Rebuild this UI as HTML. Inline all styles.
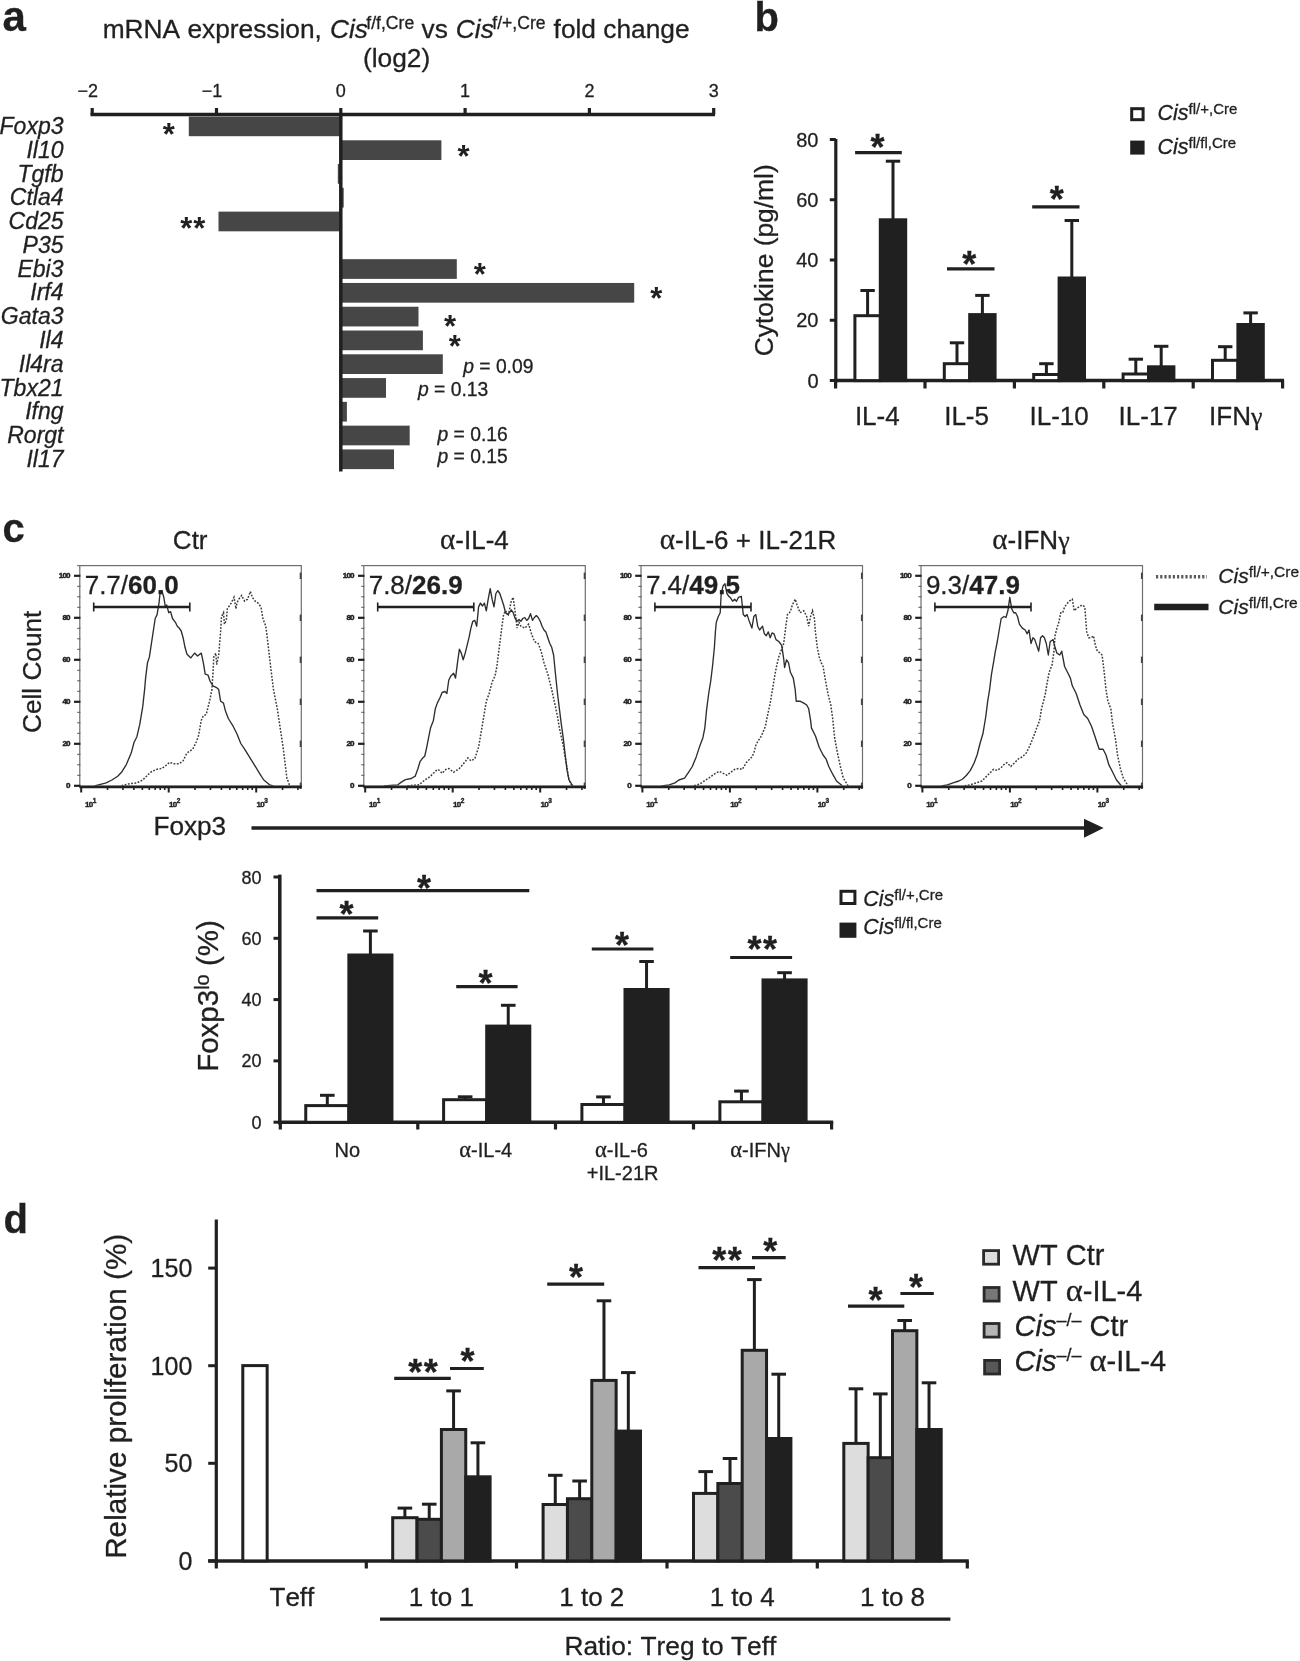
<!DOCTYPE html>
<html><head><meta charset="utf-8"><title>Figure</title>
<style>
html,body{margin:0;padding:0;background:#fff;overflow:hidden;}
svg{display:block;filter:grayscale(1);}
text{font-family:"Liberation Sans",sans-serif;fill:#231f20;font-kerning:none;stroke:#231f20;stroke-width:0.3px;}
</style></head>
<body>
<svg width="1300" height="1661" viewBox="0 0 1300 1661">
<rect width="1300" height="1661" fill="#fff"/>
<text x="2.50" y="31.00" font-size="42" font-weight="bold" >a</text>
<text y="38" font-size="26.3"><tspan x="102.7">mRNA expression,</tspan><tspan x="330" font-style="italic">Cis</tspan><tspan x="366.3" y="29.0" font-size="17.6">f/f,Cre</tspan><tspan x="421.6" y="38">vs</tspan><tspan x="455.8" font-style="italic">Cis</tspan><tspan x="492.3" y="29.0" font-size="17.6">f/+,Cre</tspan><tspan x="553.6" y="38">fold change</tspan></text>
<text x="363.00" y="67.20" font-size="26.3" >(log2)</text>
<line x1="90.50" y1="114.50" x2="715.00" y2="114.50" stroke="#231f20" stroke-width="3.5" />
<line x1="92.20" y1="108.00" x2="92.20" y2="114.50" stroke="#231f20" stroke-width="3.2" />
<text x="87.70" y="97.40" font-size="18" text-anchor="middle" >−2</text>
<line x1="216.50" y1="108.00" x2="216.50" y2="114.50" stroke="#231f20" stroke-width="3.2" />
<text x="212.00" y="97.40" font-size="18" text-anchor="middle" >−1</text>
<line x1="340.80" y1="108.00" x2="340.80" y2="114.50" stroke="#231f20" stroke-width="3.2" />
<text x="340.80" y="97.40" font-size="18" text-anchor="middle" >0</text>
<line x1="465.10" y1="108.00" x2="465.10" y2="114.50" stroke="#231f20" stroke-width="3.2" />
<text x="465.10" y="97.40" font-size="18" text-anchor="middle" >1</text>
<line x1="589.40" y1="108.00" x2="589.40" y2="114.50" stroke="#231f20" stroke-width="3.2" />
<text x="589.40" y="97.40" font-size="18" text-anchor="middle" >2</text>
<line x1="713.70" y1="108.00" x2="713.70" y2="114.50" stroke="#231f20" stroke-width="3.2" />
<text x="713.70" y="97.40" font-size="18" text-anchor="middle" >3</text>
<rect x="188.80" y="116.50" width="152.00" height="19.70" fill="#474647"/>
<text x="63.50" y="134.00" font-size="23" text-anchor="end" font-style="italic" >Foxp3</text>
<rect x="340.80" y="140.28" width="100.60" height="19.70" fill="#474647"/>
<text x="63.50" y="157.78" font-size="23" text-anchor="end" font-style="italic" >Il10</text>
<rect x="337.80" y="164.06" width="3.00" height="19.70" fill="#474647"/>
<text x="63.50" y="181.56" font-size="23" text-anchor="end" font-style="italic" >Tgfb</text>
<rect x="340.80" y="187.84" width="2.90" height="19.70" fill="#474647"/>
<text x="63.50" y="205.34" font-size="23" text-anchor="end" font-style="italic" >Ctla4</text>
<rect x="218.50" y="211.62" width="122.30" height="19.70" fill="#474647"/>
<text x="63.50" y="229.12" font-size="23" text-anchor="end" font-style="italic" >Cd25</text>
<text x="63.50" y="252.90" font-size="23" text-anchor="end" font-style="italic" >P35</text>
<rect x="340.80" y="259.18" width="116.00" height="19.70" fill="#474647"/>
<text x="63.50" y="276.68" font-size="23" text-anchor="end" font-style="italic" >Ebi3</text>
<rect x="340.80" y="282.96" width="293.40" height="19.70" fill="#474647"/>
<text x="63.50" y="300.46" font-size="23" text-anchor="end" font-style="italic" >Irf4</text>
<rect x="340.80" y="306.74" width="77.70" height="19.70" fill="#474647"/>
<text x="63.50" y="324.24" font-size="23" text-anchor="end" font-style="italic" >Gata3</text>
<rect x="340.80" y="330.52" width="82.10" height="19.70" fill="#474647"/>
<text x="63.50" y="348.02" font-size="23" text-anchor="end" font-style="italic" >Il4</text>
<rect x="340.80" y="354.30" width="102.00" height="19.70" fill="#474647"/>
<text x="63.50" y="371.80" font-size="23" text-anchor="end" font-style="italic" >Il4ra</text>
<rect x="340.80" y="378.08" width="45.20" height="19.70" fill="#474647"/>
<text x="63.50" y="395.58" font-size="23" text-anchor="end" font-style="italic" >Tbx21</text>
<rect x="340.80" y="401.86" width="6.10" height="19.70" fill="#474647"/>
<text x="63.50" y="419.36" font-size="23" text-anchor="end" font-style="italic" >Ifng</text>
<rect x="340.80" y="425.64" width="68.90" height="19.70" fill="#474647"/>
<text x="63.50" y="443.14" font-size="23" text-anchor="end" font-style="italic" >Rorgt</text>
<rect x="340.80" y="449.42" width="53.20" height="19.70" fill="#474647"/>
<text x="63.50" y="466.92" font-size="23" text-anchor="end" font-style="italic" >Il17</text>
<line x1="340.80" y1="113.00" x2="340.80" y2="471.60" stroke="#231f20" stroke-width="3.5" />
<text x="168.70" y="144.74" font-size="31" text-anchor="middle" font-weight="bold" style="stroke-width:0">*</text>
<text x="463.50" y="167.14" font-size="31" text-anchor="middle" font-weight="bold" style="stroke-width:0">*</text>
<text x="193.30" y="239.24" font-size="31" text-anchor="middle" font-weight="bold" letter-spacing="1" style="stroke-width:0">**</text>
<text x="479.80" y="285.34" font-size="31" text-anchor="middle" font-weight="bold" style="stroke-width:0">*</text>
<text x="656.20" y="309.14" font-size="31" text-anchor="middle" font-weight="bold" style="stroke-width:0">*</text>
<text x="450.00" y="337.34" font-size="31" text-anchor="middle" font-weight="bold" style="stroke-width:0">*</text>
<text x="454.80" y="356.54" font-size="31" text-anchor="middle" font-weight="bold" style="stroke-width:0">*</text>
<text x="463.20" y="373.40" font-size="19.3"><tspan font-style="italic">p</tspan> = 0.09</text>
<text x="418.00" y="396.00" font-size="19.3"><tspan font-style="italic">p</tspan> = 0.13</text>
<text x="437.50" y="440.60" font-size="19.3"><tspan font-style="italic">p</tspan> = 0.16</text>
<text x="437.50" y="462.80" font-size="19.3"><tspan font-style="italic">p</tspan> = 0.15</text>
<text x="754.50" y="31.00" font-size="40" font-weight="bold" >b</text>
<line x1="835.80" y1="139.00" x2="835.80" y2="382.50" stroke="#231f20" stroke-width="3.2" />
<line x1="829.80" y1="380.50" x2="835.80" y2="380.50" stroke="#231f20" stroke-width="3" />
<text x="818.50" y="387.70" font-size="20" text-anchor="end" >0</text>
<line x1="829.80" y1="320.25" x2="835.80" y2="320.25" stroke="#231f20" stroke-width="3" />
<text x="818.50" y="327.45" font-size="20" text-anchor="end" >20</text>
<line x1="829.80" y1="260.00" x2="835.80" y2="260.00" stroke="#231f20" stroke-width="3" />
<text x="818.50" y="267.20" font-size="20" text-anchor="end" >40</text>
<line x1="829.80" y1="199.75" x2="835.80" y2="199.75" stroke="#231f20" stroke-width="3" />
<text x="818.50" y="206.95" font-size="20" text-anchor="end" >60</text>
<line x1="829.80" y1="139.50" x2="835.80" y2="139.50" stroke="#231f20" stroke-width="3" />
<text x="818.50" y="146.70" font-size="20" text-anchor="end" >80</text>
<line x1="834.20" y1="380.60" x2="1284.00" y2="380.60" stroke="#231f20" stroke-width="3.5" />
<line x1="835.60" y1="380.00" x2="835.60" y2="388.50" stroke="#231f20" stroke-width="3.2" />
<line x1="925.00" y1="380.00" x2="925.00" y2="388.50" stroke="#231f20" stroke-width="3.2" />
<line x1="1014.40" y1="380.00" x2="1014.40" y2="388.50" stroke="#231f20" stroke-width="3.2" />
<line x1="1103.80" y1="380.00" x2="1103.80" y2="388.50" stroke="#231f20" stroke-width="3.2" />
<line x1="1193.20" y1="380.00" x2="1193.20" y2="388.50" stroke="#231f20" stroke-width="3.2" />
<line x1="1282.60" y1="380.00" x2="1282.60" y2="388.50" stroke="#231f20" stroke-width="3.2" />
<line x1="867.60" y1="315.70" x2="867.60" y2="290.50" stroke="#231f20" stroke-width="3" />
<line x1="860.40" y1="290.50" x2="874.80" y2="290.50" stroke="#231f20" stroke-width="3" />
<line x1="893.00" y1="219.80" x2="893.00" y2="161.20" stroke="#231f20" stroke-width="3" />
<line x1="885.80" y1="161.20" x2="900.20" y2="161.20" stroke="#231f20" stroke-width="3" />
<rect x="854.90" y="315.70" width="25.40" height="64.90" fill="#fff" stroke="#231f20" stroke-width="3"/>
<rect x="880.30" y="219.80" width="25.40" height="160.80" fill="#231f20" stroke="#231f20" stroke-width="3"/>
<line x1="957.00" y1="363.70" x2="957.00" y2="342.80" stroke="#231f20" stroke-width="3" />
<line x1="949.80" y1="342.80" x2="964.20" y2="342.80" stroke="#231f20" stroke-width="3" />
<line x1="982.40" y1="314.60" x2="982.40" y2="295.40" stroke="#231f20" stroke-width="3" />
<line x1="975.20" y1="295.40" x2="989.60" y2="295.40" stroke="#231f20" stroke-width="3" />
<rect x="944.30" y="363.70" width="25.40" height="16.90" fill="#fff" stroke="#231f20" stroke-width="3"/>
<rect x="969.70" y="314.60" width="25.40" height="66.00" fill="#231f20" stroke="#231f20" stroke-width="3"/>
<line x1="1046.40" y1="374.50" x2="1046.40" y2="363.70" stroke="#231f20" stroke-width="3" />
<line x1="1039.20" y1="363.70" x2="1053.60" y2="363.70" stroke="#231f20" stroke-width="3" />
<line x1="1071.80" y1="278.00" x2="1071.80" y2="220.50" stroke="#231f20" stroke-width="3" />
<line x1="1064.60" y1="220.50" x2="1079.00" y2="220.50" stroke="#231f20" stroke-width="3" />
<rect x="1033.70" y="374.50" width="25.40" height="6.10" fill="#fff" stroke="#231f20" stroke-width="3"/>
<rect x="1059.10" y="278.00" width="25.40" height="102.60" fill="#231f20" stroke="#231f20" stroke-width="3"/>
<line x1="1135.80" y1="374.00" x2="1135.80" y2="359.20" stroke="#231f20" stroke-width="3" />
<line x1="1128.60" y1="359.20" x2="1143.00" y2="359.20" stroke="#231f20" stroke-width="3" />
<line x1="1161.20" y1="366.80" x2="1161.20" y2="346.30" stroke="#231f20" stroke-width="3" />
<line x1="1154.00" y1="346.30" x2="1168.40" y2="346.30" stroke="#231f20" stroke-width="3" />
<rect x="1123.10" y="374.00" width="25.40" height="6.60" fill="#fff" stroke="#231f20" stroke-width="3"/>
<rect x="1148.50" y="366.80" width="25.40" height="13.80" fill="#231f20" stroke="#231f20" stroke-width="3"/>
<line x1="1225.20" y1="360.30" x2="1225.20" y2="346.70" stroke="#231f20" stroke-width="3" />
<line x1="1218.00" y1="346.70" x2="1232.40" y2="346.70" stroke="#231f20" stroke-width="3" />
<line x1="1250.60" y1="324.50" x2="1250.60" y2="312.90" stroke="#231f20" stroke-width="3" />
<line x1="1243.40" y1="312.90" x2="1257.80" y2="312.90" stroke="#231f20" stroke-width="3" />
<rect x="1212.50" y="360.30" width="25.40" height="20.30" fill="#fff" stroke="#231f20" stroke-width="3"/>
<rect x="1237.90" y="324.50" width="25.40" height="56.10" fill="#231f20" stroke="#231f20" stroke-width="3"/>
<line x1="855.10" y1="152.70" x2="901.80" y2="152.70" stroke="#231f20" stroke-width="3.2" />
<text x="877.60" y="160.47" font-size="36" text-anchor="middle" font-weight="bold" >*</text>
<line x1="947.00" y1="268.90" x2="994.50" y2="268.90" stroke="#231f20" stroke-width="3.2" />
<text x="969.20" y="276.57" font-size="36" text-anchor="middle" font-weight="bold" >*</text>
<line x1="1032.20" y1="206.90" x2="1079.50" y2="206.90" stroke="#231f20" stroke-width="3.2" />
<text x="1056.70" y="211.67" font-size="36" text-anchor="middle" font-weight="bold" >*</text>
<text x="877.30" y="425.30" font-size="26" text-anchor="middle" >IL-4</text>
<text x="966.60" y="425.30" font-size="26" text-anchor="middle" >IL-5</text>
<text x="1059.10" y="425.30" font-size="26" text-anchor="middle" >IL-10</text>
<text x="1148.20" y="425.30" font-size="26" text-anchor="middle" >IL-17</text>
<text x="1235.80" y="425.30" font-size="26" text-anchor="middle" >IFN<tspan font-family="Liberation Serif">γ</tspan></text>
<text transform="translate(772.9,260.3) rotate(-90)" font-size="26.4" text-anchor="middle">Cytokine (pg/ml)</text>
<rect x="1131.70" y="108.70" width="11.40" height="11.00" fill="#fff" stroke="#231f20" stroke-width="3"/>
<rect x="1131.70" y="142.10" width="11.40" height="11.00" fill="#231f20" stroke="#231f20" stroke-width="3"/>
<text x="1157.50" y="120.20" font-size="21.5"><tspan font-style="italic">Cis</tspan><tspan font-size="15" dy="-6">fl/+,Cre</tspan></text>
<text x="1157.50" y="153.50" font-size="21.5"><tspan font-style="italic">Cis</tspan><tspan font-size="15" dy="-6">fl/fl,Cre</tspan></text>
<text x="2.50" y="541.50" font-size="40" font-weight="bold" >c</text>
<text x="190.20" y="549.00" font-size="26" text-anchor="middle" >Ctr</text>
<text x="474.40" y="549.00" font-size="26" text-anchor="middle" ><tspan font-family="Liberation Serif" font-size="112%">α</tspan>-IL-4</text>
<text x="748.00" y="549.00" font-size="26" text-anchor="middle" ><tspan font-family="Liberation Serif" font-size="112%">α</tspan>-IL-6 + IL-21R</text>
<text x="1031.00" y="549.00" font-size="26" text-anchor="middle" ><tspan font-family="Liberation Serif" font-size="112%">α</tspan>-IFN<tspan font-family="Liberation Serif">γ</tspan></text>
<polyline points="121.5,785.8 129.2,783.8 136.9,782.9 142.7,780.0 146.5,776.2 150.4,772.3 156.2,769.4 161.9,768.5 165.8,765.6 169.6,762.3 173.5,763.7 179.2,763.7 183.1,760.8 186.9,753.1 192.7,749.2 196.5,741.5 198.5,735.8 201.3,720.4 203.3,715.6 206.2,714.6 208.1,706.9 210.0,699.2 211.9,689.6 212.9,674.2 213.8,656.9 215.8,653.1 216.7,664.6 218.7,655.0 220.6,631.9 221.5,616.5 223.5,612.7 224.4,624.2 226.3,620.4 227.3,608.8 229.2,606.0 231.2,603.1 234.0,597.3 236.0,608.8 236.9,603.1 238.8,599.2 241.7,595.4 244.6,601.2 247.5,599.2 250.4,591.5 252.3,597.3 255.2,601.2 258.1,603.1 261.0,606.9 262.9,618.5 265.8,626.2 267.7,641.5 270.6,666.5 273.5,689.6 277.3,708.8 280.2,728.1 283.1,747.3 285.0,762.7 286.9,778.1 289.8,785.8" fill="none" stroke="#3c3c3c" stroke-width="1.5" stroke-dasharray="1.8,1.5"/>
<polyline points="94.6,785.8 98.5,784.8 106.2,782.9 111.9,780.0 117.7,776.2 121.5,772.3 126.3,764.6 131.2,753.1 134.0,742.5 136.9,736.7 139.8,724.2 142.7,706.9 144.6,689.6 145.6,678.1 147.5,662.7 149.4,656.9 152.3,637.7 155.2,618.5 157.1,614.6 159.0,603.1 160.0,593.5 161.9,590.6 163.8,597.3 165.4,606.9 166.7,605.0 168.7,612.7 170.6,611.7 172.5,618.5 175.4,622.3 177.3,626.2 179.2,628.1 181.2,631.0 183.1,637.7 185.0,647.3 186.9,654.0 190.8,657.9 194.6,653.1 197.5,656.0 201.3,653.1 203.3,662.7 205.2,674.2 208.1,675.2 210.0,681.0 212.9,685.8 216.7,687.7 218.7,689.6 220.6,701.2 223.5,703.1 225.4,710.8 228.3,718.5 233.1,726.2 236.9,733.8 240.8,743.5 244.6,749.2 249.4,756.9 254.2,764.6 260.0,774.2 263.8,780.0 269.6,784.8 273.5,785.8" fill="none" stroke="#2e2e2e" stroke-width="1.35" stroke-linejoin="round"/>
<rect x="79.8" y="565.6" width="221.5" height="220.4" fill="none" stroke="#6e6e6e" stroke-width="1.2"/>
<line x1="77.20" y1="565.60" x2="79.80" y2="565.60" stroke="#6e6e6e" stroke-width="1.2" />
<line x1="74.00" y1="785.80" x2="80.40" y2="785.80" stroke="#231f20" stroke-width="2.2" />
<text x="69.7" y="788.4" font-size="8" font-weight="bold" text-anchor="end" style="letter-spacing:-0.8px;stroke-width:0.5px">0</text>
<line x1="300.60" y1="782.60" x2="300.60" y2="789.00" stroke="#444" stroke-width="1.8" />
<line x1="77.20" y1="775.30" x2="80.40" y2="775.30" stroke="#555" stroke-width="1.0" />
<line x1="77.20" y1="764.80" x2="80.40" y2="764.80" stroke="#555" stroke-width="1.0" />
<line x1="77.20" y1="754.30" x2="80.40" y2="754.30" stroke="#555" stroke-width="1.0" />
<line x1="74.00" y1="743.80" x2="80.40" y2="743.80" stroke="#231f20" stroke-width="2.2" />
<text x="69.7" y="746.4" font-size="8" font-weight="bold" text-anchor="end" style="letter-spacing:-0.8px;stroke-width:0.5px">20</text>
<line x1="300.60" y1="740.60" x2="300.60" y2="747.00" stroke="#444" stroke-width="1.8" />
<line x1="77.20" y1="733.30" x2="80.40" y2="733.30" stroke="#555" stroke-width="1.0" />
<line x1="77.20" y1="722.80" x2="80.40" y2="722.80" stroke="#555" stroke-width="1.0" />
<line x1="77.20" y1="712.30" x2="80.40" y2="712.30" stroke="#555" stroke-width="1.0" />
<line x1="74.00" y1="701.80" x2="80.40" y2="701.80" stroke="#231f20" stroke-width="2.2" />
<text x="69.7" y="704.4" font-size="8" font-weight="bold" text-anchor="end" style="letter-spacing:-0.8px;stroke-width:0.5px">40</text>
<line x1="300.60" y1="698.60" x2="300.60" y2="705.00" stroke="#444" stroke-width="1.8" />
<line x1="77.20" y1="691.30" x2="80.40" y2="691.30" stroke="#555" stroke-width="1.0" />
<line x1="77.20" y1="680.80" x2="80.40" y2="680.80" stroke="#555" stroke-width="1.0" />
<line x1="77.20" y1="670.30" x2="80.40" y2="670.30" stroke="#555" stroke-width="1.0" />
<line x1="74.00" y1="659.80" x2="80.40" y2="659.80" stroke="#231f20" stroke-width="2.2" />
<text x="69.7" y="662.4" font-size="8" font-weight="bold" text-anchor="end" style="letter-spacing:-0.8px;stroke-width:0.5px">60</text>
<line x1="300.60" y1="656.60" x2="300.60" y2="663.00" stroke="#444" stroke-width="1.8" />
<line x1="77.20" y1="649.30" x2="80.40" y2="649.30" stroke="#555" stroke-width="1.0" />
<line x1="77.20" y1="638.80" x2="80.40" y2="638.80" stroke="#555" stroke-width="1.0" />
<line x1="77.20" y1="628.30" x2="80.40" y2="628.30" stroke="#555" stroke-width="1.0" />
<line x1="74.00" y1="617.80" x2="80.40" y2="617.80" stroke="#231f20" stroke-width="2.2" />
<text x="69.7" y="620.4" font-size="8" font-weight="bold" text-anchor="end" style="letter-spacing:-0.8px;stroke-width:0.5px">80</text>
<line x1="300.60" y1="614.60" x2="300.60" y2="621.00" stroke="#444" stroke-width="1.8" />
<line x1="77.20" y1="607.30" x2="80.40" y2="607.30" stroke="#555" stroke-width="1.0" />
<line x1="77.20" y1="596.80" x2="80.40" y2="596.80" stroke="#555" stroke-width="1.0" />
<line x1="77.20" y1="586.30" x2="80.40" y2="586.30" stroke="#555" stroke-width="1.0" />
<line x1="74.00" y1="575.80" x2="80.40" y2="575.80" stroke="#231f20" stroke-width="2.2" />
<text x="69.7" y="578.4" font-size="8" font-weight="bold" text-anchor="end" style="letter-spacing:-0.8px;stroke-width:0.5px">100</text>
<line x1="300.60" y1="572.60" x2="300.60" y2="579.00" stroke="#444" stroke-width="1.8" />
<line x1="79.40" y1="787.00" x2="301.90" y2="787.00" stroke="#231f20" stroke-width="2.6" />
<line x1="81.20" y1="786.00" x2="81.20" y2="792.50" stroke="#231f20" stroke-width="2.0" />
<line x1="107.54" y1="786.00" x2="107.54" y2="790.00" stroke="#231f20" stroke-width="1.6" />
<line x1="122.95" y1="786.00" x2="122.95" y2="790.00" stroke="#231f20" stroke-width="1.6" />
<line x1="133.88" y1="786.00" x2="133.88" y2="790.00" stroke="#231f20" stroke-width="1.6" />
<line x1="142.36" y1="786.00" x2="142.36" y2="790.00" stroke="#231f20" stroke-width="1.6" />
<line x1="149.29" y1="786.00" x2="149.29" y2="790.00" stroke="#231f20" stroke-width="1.6" />
<line x1="155.15" y1="786.00" x2="155.15" y2="790.00" stroke="#231f20" stroke-width="1.6" />
<line x1="160.22" y1="786.00" x2="160.22" y2="790.00" stroke="#231f20" stroke-width="1.6" />
<line x1="164.70" y1="786.00" x2="164.70" y2="790.00" stroke="#231f20" stroke-width="1.6" />
<line x1="168.70" y1="786.00" x2="168.70" y2="792.50" stroke="#231f20" stroke-width="2.0" />
<line x1="195.04" y1="786.00" x2="195.04" y2="790.00" stroke="#231f20" stroke-width="1.6" />
<line x1="210.45" y1="786.00" x2="210.45" y2="790.00" stroke="#231f20" stroke-width="1.6" />
<line x1="221.38" y1="786.00" x2="221.38" y2="790.00" stroke="#231f20" stroke-width="1.6" />
<line x1="229.86" y1="786.00" x2="229.86" y2="790.00" stroke="#231f20" stroke-width="1.6" />
<line x1="236.79" y1="786.00" x2="236.79" y2="790.00" stroke="#231f20" stroke-width="1.6" />
<line x1="242.65" y1="786.00" x2="242.65" y2="790.00" stroke="#231f20" stroke-width="1.6" />
<line x1="247.72" y1="786.00" x2="247.72" y2="790.00" stroke="#231f20" stroke-width="1.6" />
<line x1="252.20" y1="786.00" x2="252.20" y2="790.00" stroke="#231f20" stroke-width="1.6" />
<line x1="256.20" y1="786.00" x2="256.20" y2="792.50" stroke="#231f20" stroke-width="2.0" />
<line x1="282.54" y1="786.00" x2="282.54" y2="790.00" stroke="#231f20" stroke-width="1.6" />
<line x1="297.95" y1="786.00" x2="297.95" y2="790.00" stroke="#231f20" stroke-width="1.6" />
<text x="85.0" y="806.5" font-size="8" font-weight="bold" style="letter-spacing:-0.6px;stroke-width:0.4px">10<tspan font-size="6.5" dy="-4">1</tspan></text>
<text x="169.0" y="806.5" font-size="8" font-weight="bold" style="letter-spacing:-0.6px;stroke-width:0.4px">10<tspan font-size="6.5" dy="-4">2</tspan></text>
<text x="256.5" y="806.5" font-size="8" font-weight="bold" style="letter-spacing:-0.6px;stroke-width:0.4px">10<tspan font-size="6.5" dy="-4">3</tspan></text>
<line x1="93.70" y1="607.00" x2="189.80" y2="607.00" stroke="#231f20" stroke-width="2.6" />
<line x1="93.70" y1="602.50" x2="93.70" y2="611.50" stroke="#231f20" stroke-width="1.6" />
<line x1="189.80" y1="602.50" x2="189.80" y2="611.50" stroke="#231f20" stroke-width="1.6" />
<text x="84.7" y="593.8" font-size="26">7.7/<tspan font-weight="bold">60.0</tspan></text>
<polyline points="407.5,785.8 419.0,784.8 424.8,780.0 430.5,776.2 436.3,770.4 438.2,769.4 442.1,773.3 445.9,769.4 448.8,768.5 453.6,772.3 459.4,768.5 465.2,761.7 468.0,757.9 470.9,760.8 474.8,758.8 478.6,747.3 480.5,735.8 482.5,724.2 484.4,712.7 486.3,701.2 489.2,693.5 492.1,681.9 495.0,676.2 496.9,666.5 497.8,658.8 499.8,643.5 501.7,628.1 503.6,614.6 505.5,610.8 508.4,614.6 511.3,601.2 513.2,597.3 515.2,612.7 517.1,628.1 519.0,622.3 520.9,626.2 524.8,628.1 528.6,624.2 531.5,633.8 534.4,641.5 538.2,643.5 541.1,651.2 544.0,662.7 547.8,674.2 551.7,689.6 555.5,706.9 557.5,716.5 559.4,728.1 563.2,745.4 567.1,768.5 569.0,780.0 571.9,785.8" fill="none" stroke="#3c3c3c" stroke-width="1.5" stroke-dasharray="1.8,1.5"/>
<polyline points="384.4,785.8 390.2,785.4 397.8,784.8 401.7,781.9 405.5,779.6 411.3,778.5 415.2,776.2 418.0,768.5 420.0,761.7 422.8,757.9 424.8,756.0 426.7,747.3 428.6,737.7 430.5,728.1 433.4,720.4 435.3,708.8 437.3,703.1 440.2,697.3 442.1,692.5 445.0,691.5 446.9,693.5 448.8,680.0 450.7,676.2 453.6,673.3 455.5,678.1 457.5,662.7 459.4,649.2 461.3,653.1 463.2,659.8 465.2,653.1 467.1,645.4 469.0,637.7 470.9,628.1 472.8,621.3 474.8,620.4 476.7,626.2 478.6,606.9 480.5,603.1 482.5,606.0 484.4,603.1 486.3,610.8 488.2,599.2 490.2,588.7 492.1,599.2 494.0,606.9 495.9,593.5 497.8,590.6 499.8,593.5 501.7,599.2 503.6,605.0 505.5,612.7 507.5,614.6 509.4,612.7 511.3,609.8 513.2,612.7 515.2,618.5 517.1,621.3 519.0,619.4 520.9,621.3 522.8,618.5 524.8,617.5 526.7,620.4 528.6,618.5 530.5,613.7 532.5,620.4 534.4,617.5 536.3,615.6 538.2,617.5 540.2,621.3 542.1,626.2 544.0,630.0 545.9,631.9 547.8,637.7 549.8,643.5 551.7,647.3 553.6,655.0 555.5,674.2 557.5,693.5 559.4,708.8 561.3,724.2 563.2,737.7 565.2,755.0 567.1,770.4 569.0,780.0 572.8,785.8" fill="none" stroke="#2e2e2e" stroke-width="1.35" stroke-linejoin="round"/>
<rect x="363.8" y="565.6" width="221.5" height="220.4" fill="none" stroke="#6e6e6e" stroke-width="1.2"/>
<line x1="361.20" y1="565.60" x2="363.80" y2="565.60" stroke="#6e6e6e" stroke-width="1.2" />
<line x1="358.00" y1="785.80" x2="364.40" y2="785.80" stroke="#231f20" stroke-width="2.2" />
<text x="353.7" y="788.4" font-size="8" font-weight="bold" text-anchor="end" style="letter-spacing:-0.8px;stroke-width:0.5px">0</text>
<line x1="584.60" y1="782.60" x2="584.60" y2="789.00" stroke="#444" stroke-width="1.8" />
<line x1="361.20" y1="775.30" x2="364.40" y2="775.30" stroke="#555" stroke-width="1.0" />
<line x1="361.20" y1="764.80" x2="364.40" y2="764.80" stroke="#555" stroke-width="1.0" />
<line x1="361.20" y1="754.30" x2="364.40" y2="754.30" stroke="#555" stroke-width="1.0" />
<line x1="358.00" y1="743.80" x2="364.40" y2="743.80" stroke="#231f20" stroke-width="2.2" />
<text x="353.7" y="746.4" font-size="8" font-weight="bold" text-anchor="end" style="letter-spacing:-0.8px;stroke-width:0.5px">20</text>
<line x1="584.60" y1="740.60" x2="584.60" y2="747.00" stroke="#444" stroke-width="1.8" />
<line x1="361.20" y1="733.30" x2="364.40" y2="733.30" stroke="#555" stroke-width="1.0" />
<line x1="361.20" y1="722.80" x2="364.40" y2="722.80" stroke="#555" stroke-width="1.0" />
<line x1="361.20" y1="712.30" x2="364.40" y2="712.30" stroke="#555" stroke-width="1.0" />
<line x1="358.00" y1="701.80" x2="364.40" y2="701.80" stroke="#231f20" stroke-width="2.2" />
<text x="353.7" y="704.4" font-size="8" font-weight="bold" text-anchor="end" style="letter-spacing:-0.8px;stroke-width:0.5px">40</text>
<line x1="584.60" y1="698.60" x2="584.60" y2="705.00" stroke="#444" stroke-width="1.8" />
<line x1="361.20" y1="691.30" x2="364.40" y2="691.30" stroke="#555" stroke-width="1.0" />
<line x1="361.20" y1="680.80" x2="364.40" y2="680.80" stroke="#555" stroke-width="1.0" />
<line x1="361.20" y1="670.30" x2="364.40" y2="670.30" stroke="#555" stroke-width="1.0" />
<line x1="358.00" y1="659.80" x2="364.40" y2="659.80" stroke="#231f20" stroke-width="2.2" />
<text x="353.7" y="662.4" font-size="8" font-weight="bold" text-anchor="end" style="letter-spacing:-0.8px;stroke-width:0.5px">60</text>
<line x1="584.60" y1="656.60" x2="584.60" y2="663.00" stroke="#444" stroke-width="1.8" />
<line x1="361.20" y1="649.30" x2="364.40" y2="649.30" stroke="#555" stroke-width="1.0" />
<line x1="361.20" y1="638.80" x2="364.40" y2="638.80" stroke="#555" stroke-width="1.0" />
<line x1="361.20" y1="628.30" x2="364.40" y2="628.30" stroke="#555" stroke-width="1.0" />
<line x1="358.00" y1="617.80" x2="364.40" y2="617.80" stroke="#231f20" stroke-width="2.2" />
<text x="353.7" y="620.4" font-size="8" font-weight="bold" text-anchor="end" style="letter-spacing:-0.8px;stroke-width:0.5px">80</text>
<line x1="584.60" y1="614.60" x2="584.60" y2="621.00" stroke="#444" stroke-width="1.8" />
<line x1="361.20" y1="607.30" x2="364.40" y2="607.30" stroke="#555" stroke-width="1.0" />
<line x1="361.20" y1="596.80" x2="364.40" y2="596.80" stroke="#555" stroke-width="1.0" />
<line x1="361.20" y1="586.30" x2="364.40" y2="586.30" stroke="#555" stroke-width="1.0" />
<line x1="358.00" y1="575.80" x2="364.40" y2="575.80" stroke="#231f20" stroke-width="2.2" />
<text x="353.7" y="578.4" font-size="8" font-weight="bold" text-anchor="end" style="letter-spacing:-0.8px;stroke-width:0.5px">100</text>
<line x1="584.60" y1="572.60" x2="584.60" y2="579.00" stroke="#444" stroke-width="1.8" />
<line x1="363.40" y1="787.00" x2="585.90" y2="787.00" stroke="#231f20" stroke-width="2.6" />
<line x1="365.20" y1="786.00" x2="365.20" y2="792.50" stroke="#231f20" stroke-width="2.0" />
<line x1="391.54" y1="786.00" x2="391.54" y2="790.00" stroke="#231f20" stroke-width="1.6" />
<line x1="406.95" y1="786.00" x2="406.95" y2="790.00" stroke="#231f20" stroke-width="1.6" />
<line x1="417.88" y1="786.00" x2="417.88" y2="790.00" stroke="#231f20" stroke-width="1.6" />
<line x1="426.36" y1="786.00" x2="426.36" y2="790.00" stroke="#231f20" stroke-width="1.6" />
<line x1="433.29" y1="786.00" x2="433.29" y2="790.00" stroke="#231f20" stroke-width="1.6" />
<line x1="439.15" y1="786.00" x2="439.15" y2="790.00" stroke="#231f20" stroke-width="1.6" />
<line x1="444.22" y1="786.00" x2="444.22" y2="790.00" stroke="#231f20" stroke-width="1.6" />
<line x1="448.70" y1="786.00" x2="448.70" y2="790.00" stroke="#231f20" stroke-width="1.6" />
<line x1="452.70" y1="786.00" x2="452.70" y2="792.50" stroke="#231f20" stroke-width="2.0" />
<line x1="479.04" y1="786.00" x2="479.04" y2="790.00" stroke="#231f20" stroke-width="1.6" />
<line x1="494.45" y1="786.00" x2="494.45" y2="790.00" stroke="#231f20" stroke-width="1.6" />
<line x1="505.38" y1="786.00" x2="505.38" y2="790.00" stroke="#231f20" stroke-width="1.6" />
<line x1="513.86" y1="786.00" x2="513.86" y2="790.00" stroke="#231f20" stroke-width="1.6" />
<line x1="520.79" y1="786.00" x2="520.79" y2="790.00" stroke="#231f20" stroke-width="1.6" />
<line x1="526.65" y1="786.00" x2="526.65" y2="790.00" stroke="#231f20" stroke-width="1.6" />
<line x1="531.72" y1="786.00" x2="531.72" y2="790.00" stroke="#231f20" stroke-width="1.6" />
<line x1="536.20" y1="786.00" x2="536.20" y2="790.00" stroke="#231f20" stroke-width="1.6" />
<line x1="540.20" y1="786.00" x2="540.20" y2="792.50" stroke="#231f20" stroke-width="2.0" />
<line x1="566.54" y1="786.00" x2="566.54" y2="790.00" stroke="#231f20" stroke-width="1.6" />
<line x1="581.95" y1="786.00" x2="581.95" y2="790.00" stroke="#231f20" stroke-width="1.6" />
<text x="369.0" y="806.5" font-size="8" font-weight="bold" style="letter-spacing:-0.6px;stroke-width:0.4px">10<tspan font-size="6.5" dy="-4">1</tspan></text>
<text x="453.0" y="806.5" font-size="8" font-weight="bold" style="letter-spacing:-0.6px;stroke-width:0.4px">10<tspan font-size="6.5" dy="-4">2</tspan></text>
<text x="540.5" y="806.5" font-size="8" font-weight="bold" style="letter-spacing:-0.6px;stroke-width:0.4px">10<tspan font-size="6.5" dy="-4">3</tspan></text>
<line x1="377.70" y1="607.00" x2="473.80" y2="607.00" stroke="#231f20" stroke-width="2.6" />
<line x1="377.70" y1="602.50" x2="377.70" y2="611.50" stroke="#231f20" stroke-width="1.6" />
<line x1="473.80" y1="602.50" x2="473.80" y2="611.50" stroke="#231f20" stroke-width="1.6" />
<text x="368.7" y="593.8" font-size="26">7.8/<tspan font-weight="bold">26.9</tspan></text>
<polyline points="694.2,785.8 700.0,783.8 705.8,780.0 711.5,776.2 715.4,773.3 719.2,771.3 723.1,773.3 726.9,775.2 730.8,772.3 734.6,769.4 738.5,768.5 742.3,769.4 746.2,762.7 751.9,756.9 753.8,753.1 755.8,745.4 757.7,741.5 761.5,735.8 765.4,726.2 767.3,716.5 770.2,703.1 773.1,685.8 775.0,674.2 776.9,664.6 778.8,656.9 781.7,649.2 783.7,643.5 785.6,628.1 787.5,614.6 790.4,611.7 792.3,605.0 795.2,599.2 797.1,605.0 800.0,612.7 803.8,610.8 806.7,616.5 808.7,626.2 810.6,616.5 812.5,610.8 814.4,618.5 815.4,631.9 817.3,647.3 819.2,656.9 821.2,662.7 823.1,666.5 825.0,678.1 827.9,693.5 830.8,705.0 832.7,718.5 834.6,737.7 837.5,753.1 840.4,766.5 843.3,778.1 848.1,785.8" fill="none" stroke="#3c3c3c" stroke-width="1.5" stroke-dasharray="1.8,1.5"/>
<polyline points="661.5,785.8 669.2,784.8 675.0,782.9 678.8,780.0 684.6,778.1 688.5,772.3 692.3,766.5 696.2,756.9 700.0,745.4 702.9,737.7 704.8,728.1 706.7,708.8 708.7,693.5 710.6,681.9 712.5,666.5 714.4,647.3 715.4,631.9 716.3,622.3 718.3,616.5 720.2,612.7 721.2,593.5 723.1,585.8 725.0,583.8 726.9,593.5 728.8,596.3 730.8,598.3 732.7,601.2 734.6,599.2 736.5,601.2 738.5,597.3 741.3,596.3 743.3,614.6 745.2,616.5 747.1,614.6 749.0,620.4 751.9,628.1 753.8,616.5 755.8,614.6 757.7,626.2 759.6,630.0 762.5,626.2 764.4,633.8 766.3,635.8 768.3,631.9 770.2,637.7 772.1,632.9 774.0,633.8 776.0,639.6 778.8,641.5 781.7,645.4 783.7,658.8 784.6,667.5 786.5,659.8 788.5,662.7 790.4,672.3 793.3,678.1 795.2,689.6 796.2,701.2 800.0,701.2 803.8,703.1 806.7,705.0 808.7,708.8 810.6,720.4 811.5,728.1 815.4,735.8 819.2,747.3 823.1,755.0 826.0,758.8 828.8,766.5 832.7,774.2 836.5,781.0 842.3,785.8" fill="none" stroke="#2e2e2e" stroke-width="1.35" stroke-linejoin="round"/>
<rect x="641.0" y="565.6" width="221.5" height="220.4" fill="none" stroke="#6e6e6e" stroke-width="1.2"/>
<line x1="638.40" y1="565.60" x2="641.00" y2="565.60" stroke="#6e6e6e" stroke-width="1.2" />
<line x1="635.20" y1="785.80" x2="641.60" y2="785.80" stroke="#231f20" stroke-width="2.2" />
<text x="630.9" y="788.4" font-size="8" font-weight="bold" text-anchor="end" style="letter-spacing:-0.8px;stroke-width:0.5px">0</text>
<line x1="861.80" y1="782.60" x2="861.80" y2="789.00" stroke="#444" stroke-width="1.8" />
<line x1="638.40" y1="775.30" x2="641.60" y2="775.30" stroke="#555" stroke-width="1.0" />
<line x1="638.40" y1="764.80" x2="641.60" y2="764.80" stroke="#555" stroke-width="1.0" />
<line x1="638.40" y1="754.30" x2="641.60" y2="754.30" stroke="#555" stroke-width="1.0" />
<line x1="635.20" y1="743.80" x2="641.60" y2="743.80" stroke="#231f20" stroke-width="2.2" />
<text x="630.9" y="746.4" font-size="8" font-weight="bold" text-anchor="end" style="letter-spacing:-0.8px;stroke-width:0.5px">20</text>
<line x1="861.80" y1="740.60" x2="861.80" y2="747.00" stroke="#444" stroke-width="1.8" />
<line x1="638.40" y1="733.30" x2="641.60" y2="733.30" stroke="#555" stroke-width="1.0" />
<line x1="638.40" y1="722.80" x2="641.60" y2="722.80" stroke="#555" stroke-width="1.0" />
<line x1="638.40" y1="712.30" x2="641.60" y2="712.30" stroke="#555" stroke-width="1.0" />
<line x1="635.20" y1="701.80" x2="641.60" y2="701.80" stroke="#231f20" stroke-width="2.2" />
<text x="630.9" y="704.4" font-size="8" font-weight="bold" text-anchor="end" style="letter-spacing:-0.8px;stroke-width:0.5px">40</text>
<line x1="861.80" y1="698.60" x2="861.80" y2="705.00" stroke="#444" stroke-width="1.8" />
<line x1="638.40" y1="691.30" x2="641.60" y2="691.30" stroke="#555" stroke-width="1.0" />
<line x1="638.40" y1="680.80" x2="641.60" y2="680.80" stroke="#555" stroke-width="1.0" />
<line x1="638.40" y1="670.30" x2="641.60" y2="670.30" stroke="#555" stroke-width="1.0" />
<line x1="635.20" y1="659.80" x2="641.60" y2="659.80" stroke="#231f20" stroke-width="2.2" />
<text x="630.9" y="662.4" font-size="8" font-weight="bold" text-anchor="end" style="letter-spacing:-0.8px;stroke-width:0.5px">60</text>
<line x1="861.80" y1="656.60" x2="861.80" y2="663.00" stroke="#444" stroke-width="1.8" />
<line x1="638.40" y1="649.30" x2="641.60" y2="649.30" stroke="#555" stroke-width="1.0" />
<line x1="638.40" y1="638.80" x2="641.60" y2="638.80" stroke="#555" stroke-width="1.0" />
<line x1="638.40" y1="628.30" x2="641.60" y2="628.30" stroke="#555" stroke-width="1.0" />
<line x1="635.20" y1="617.80" x2="641.60" y2="617.80" stroke="#231f20" stroke-width="2.2" />
<text x="630.9" y="620.4" font-size="8" font-weight="bold" text-anchor="end" style="letter-spacing:-0.8px;stroke-width:0.5px">80</text>
<line x1="861.80" y1="614.60" x2="861.80" y2="621.00" stroke="#444" stroke-width="1.8" />
<line x1="638.40" y1="607.30" x2="641.60" y2="607.30" stroke="#555" stroke-width="1.0" />
<line x1="638.40" y1="596.80" x2="641.60" y2="596.80" stroke="#555" stroke-width="1.0" />
<line x1="638.40" y1="586.30" x2="641.60" y2="586.30" stroke="#555" stroke-width="1.0" />
<line x1="635.20" y1="575.80" x2="641.60" y2="575.80" stroke="#231f20" stroke-width="2.2" />
<text x="630.9" y="578.4" font-size="8" font-weight="bold" text-anchor="end" style="letter-spacing:-0.8px;stroke-width:0.5px">100</text>
<line x1="861.80" y1="572.60" x2="861.80" y2="579.00" stroke="#444" stroke-width="1.8" />
<line x1="640.60" y1="787.00" x2="863.10" y2="787.00" stroke="#231f20" stroke-width="2.6" />
<line x1="642.40" y1="786.00" x2="642.40" y2="792.50" stroke="#231f20" stroke-width="2.0" />
<line x1="668.74" y1="786.00" x2="668.74" y2="790.00" stroke="#231f20" stroke-width="1.6" />
<line x1="684.15" y1="786.00" x2="684.15" y2="790.00" stroke="#231f20" stroke-width="1.6" />
<line x1="695.08" y1="786.00" x2="695.08" y2="790.00" stroke="#231f20" stroke-width="1.6" />
<line x1="703.56" y1="786.00" x2="703.56" y2="790.00" stroke="#231f20" stroke-width="1.6" />
<line x1="710.49" y1="786.00" x2="710.49" y2="790.00" stroke="#231f20" stroke-width="1.6" />
<line x1="716.35" y1="786.00" x2="716.35" y2="790.00" stroke="#231f20" stroke-width="1.6" />
<line x1="721.42" y1="786.00" x2="721.42" y2="790.00" stroke="#231f20" stroke-width="1.6" />
<line x1="725.90" y1="786.00" x2="725.90" y2="790.00" stroke="#231f20" stroke-width="1.6" />
<line x1="729.90" y1="786.00" x2="729.90" y2="792.50" stroke="#231f20" stroke-width="2.0" />
<line x1="756.24" y1="786.00" x2="756.24" y2="790.00" stroke="#231f20" stroke-width="1.6" />
<line x1="771.65" y1="786.00" x2="771.65" y2="790.00" stroke="#231f20" stroke-width="1.6" />
<line x1="782.58" y1="786.00" x2="782.58" y2="790.00" stroke="#231f20" stroke-width="1.6" />
<line x1="791.06" y1="786.00" x2="791.06" y2="790.00" stroke="#231f20" stroke-width="1.6" />
<line x1="797.99" y1="786.00" x2="797.99" y2="790.00" stroke="#231f20" stroke-width="1.6" />
<line x1="803.85" y1="786.00" x2="803.85" y2="790.00" stroke="#231f20" stroke-width="1.6" />
<line x1="808.92" y1="786.00" x2="808.92" y2="790.00" stroke="#231f20" stroke-width="1.6" />
<line x1="813.40" y1="786.00" x2="813.40" y2="790.00" stroke="#231f20" stroke-width="1.6" />
<line x1="817.40" y1="786.00" x2="817.40" y2="792.50" stroke="#231f20" stroke-width="2.0" />
<line x1="843.74" y1="786.00" x2="843.74" y2="790.00" stroke="#231f20" stroke-width="1.6" />
<line x1="859.15" y1="786.00" x2="859.15" y2="790.00" stroke="#231f20" stroke-width="1.6" />
<text x="646.2" y="806.5" font-size="8" font-weight="bold" style="letter-spacing:-0.6px;stroke-width:0.4px">10<tspan font-size="6.5" dy="-4">1</tspan></text>
<text x="730.2" y="806.5" font-size="8" font-weight="bold" style="letter-spacing:-0.6px;stroke-width:0.4px">10<tspan font-size="6.5" dy="-4">2</tspan></text>
<text x="817.7" y="806.5" font-size="8" font-weight="bold" style="letter-spacing:-0.6px;stroke-width:0.4px">10<tspan font-size="6.5" dy="-4">3</tspan></text>
<line x1="654.90" y1="607.00" x2="751.00" y2="607.00" stroke="#231f20" stroke-width="2.6" />
<line x1="654.90" y1="602.50" x2="654.90" y2="611.50" stroke="#231f20" stroke-width="1.6" />
<line x1="751.00" y1="602.50" x2="751.00" y2="611.50" stroke="#231f20" stroke-width="1.6" />
<text x="645.9" y="593.8" font-size="26">7.4/<tspan font-weight="bold">49.5</tspan></text>
<polyline points="964.6,785.8 970.4,784.8 976.2,782.9 981.9,781.0 985.8,777.1 989.6,773.3 993.5,769.4 997.3,770.4 1001.2,767.5 1004.0,764.6 1006.9,762.7 1010.8,766.5 1014.6,762.7 1018.5,758.8 1022.3,756.9 1026.2,753.1 1030.0,745.4 1033.8,735.8 1036.7,728.1 1039.6,720.4 1041.5,708.8 1043.5,701.2 1045.4,693.5 1047.3,681.9 1049.2,672.3 1052.1,664.6 1054.0,651.2 1055.0,635.8 1056.9,628.1 1058.8,622.3 1060.8,612.7 1062.7,612.7 1064.6,606.9 1067.5,603.1 1069.4,601.2 1072.3,599.2 1074.2,610.8 1076.2,608.8 1079.0,606.9 1081.9,605.0 1084.8,606.9 1086.7,631.9 1088.7,637.7 1091.5,637.7 1093.5,635.8 1095.4,645.4 1097.3,651.2 1100.2,653.1 1102.1,655.0 1104.0,670.4 1106.0,689.6 1107.9,701.2 1110.8,708.8 1112.7,724.2 1115.6,739.6 1117.5,755.0 1120.4,768.5 1123.3,778.1 1128.1,785.8" fill="none" stroke="#3c3c3c" stroke-width="1.5" stroke-dasharray="1.8,1.5"/>
<polyline points="941.5,785.8 947.3,784.8 953.1,782.9 958.8,781.0 962.7,779.0 966.5,775.2 970.4,770.4 974.2,762.7 977.1,755.0 980.0,743.5 982.9,733.8 985.8,716.5 987.7,701.2 989.6,689.6 991.5,674.2 993.5,662.7 995.4,651.2 997.3,641.5 999.2,630.0 1001.2,618.5 1004.0,616.5 1006.0,617.5 1007.9,610.8 1009.8,597.3 1011.7,608.8 1013.7,612.7 1015.6,612.7 1017.5,616.5 1019.4,624.2 1022.3,628.1 1025.2,630.0 1027.1,633.8 1029.0,630.0 1031.0,643.5 1032.9,637.7 1034.8,639.6 1036.7,645.4 1038.7,651.2 1040.6,637.7 1042.5,635.8 1044.4,637.7 1046.3,643.5 1048.3,655.0 1050.2,641.5 1053.1,639.6 1055.0,647.3 1056.9,653.1 1059.8,655.0 1061.7,651.2 1064.6,666.5 1067.5,672.3 1070.4,678.1 1072.3,685.8 1076.2,693.5 1080.0,705.0 1083.8,714.6 1087.7,718.5 1091.5,726.2 1095.4,737.7 1099.2,749.2 1103.1,749.2 1106.0,755.0 1108.8,764.6 1112.7,772.3 1116.5,780.0 1121.3,785.8" fill="none" stroke="#2e2e2e" stroke-width="1.35" stroke-linejoin="round"/>
<rect x="921.0" y="565.6" width="221.5" height="220.4" fill="none" stroke="#6e6e6e" stroke-width="1.2"/>
<line x1="918.40" y1="565.60" x2="921.00" y2="565.60" stroke="#6e6e6e" stroke-width="1.2" />
<line x1="915.20" y1="785.80" x2="921.60" y2="785.80" stroke="#231f20" stroke-width="2.2" />
<text x="910.9" y="788.4" font-size="8" font-weight="bold" text-anchor="end" style="letter-spacing:-0.8px;stroke-width:0.5px">0</text>
<line x1="1141.80" y1="782.60" x2="1141.80" y2="789.00" stroke="#444" stroke-width="1.8" />
<line x1="918.40" y1="775.30" x2="921.60" y2="775.30" stroke="#555" stroke-width="1.0" />
<line x1="918.40" y1="764.80" x2="921.60" y2="764.80" stroke="#555" stroke-width="1.0" />
<line x1="918.40" y1="754.30" x2="921.60" y2="754.30" stroke="#555" stroke-width="1.0" />
<line x1="915.20" y1="743.80" x2="921.60" y2="743.80" stroke="#231f20" stroke-width="2.2" />
<text x="910.9" y="746.4" font-size="8" font-weight="bold" text-anchor="end" style="letter-spacing:-0.8px;stroke-width:0.5px">20</text>
<line x1="1141.80" y1="740.60" x2="1141.80" y2="747.00" stroke="#444" stroke-width="1.8" />
<line x1="918.40" y1="733.30" x2="921.60" y2="733.30" stroke="#555" stroke-width="1.0" />
<line x1="918.40" y1="722.80" x2="921.60" y2="722.80" stroke="#555" stroke-width="1.0" />
<line x1="918.40" y1="712.30" x2="921.60" y2="712.30" stroke="#555" stroke-width="1.0" />
<line x1="915.20" y1="701.80" x2="921.60" y2="701.80" stroke="#231f20" stroke-width="2.2" />
<text x="910.9" y="704.4" font-size="8" font-weight="bold" text-anchor="end" style="letter-spacing:-0.8px;stroke-width:0.5px">40</text>
<line x1="1141.80" y1="698.60" x2="1141.80" y2="705.00" stroke="#444" stroke-width="1.8" />
<line x1="918.40" y1="691.30" x2="921.60" y2="691.30" stroke="#555" stroke-width="1.0" />
<line x1="918.40" y1="680.80" x2="921.60" y2="680.80" stroke="#555" stroke-width="1.0" />
<line x1="918.40" y1="670.30" x2="921.60" y2="670.30" stroke="#555" stroke-width="1.0" />
<line x1="915.20" y1="659.80" x2="921.60" y2="659.80" stroke="#231f20" stroke-width="2.2" />
<text x="910.9" y="662.4" font-size="8" font-weight="bold" text-anchor="end" style="letter-spacing:-0.8px;stroke-width:0.5px">60</text>
<line x1="1141.80" y1="656.60" x2="1141.80" y2="663.00" stroke="#444" stroke-width="1.8" />
<line x1="918.40" y1="649.30" x2="921.60" y2="649.30" stroke="#555" stroke-width="1.0" />
<line x1="918.40" y1="638.80" x2="921.60" y2="638.80" stroke="#555" stroke-width="1.0" />
<line x1="918.40" y1="628.30" x2="921.60" y2="628.30" stroke="#555" stroke-width="1.0" />
<line x1="915.20" y1="617.80" x2="921.60" y2="617.80" stroke="#231f20" stroke-width="2.2" />
<text x="910.9" y="620.4" font-size="8" font-weight="bold" text-anchor="end" style="letter-spacing:-0.8px;stroke-width:0.5px">80</text>
<line x1="1141.80" y1="614.60" x2="1141.80" y2="621.00" stroke="#444" stroke-width="1.8" />
<line x1="918.40" y1="607.30" x2="921.60" y2="607.30" stroke="#555" stroke-width="1.0" />
<line x1="918.40" y1="596.80" x2="921.60" y2="596.80" stroke="#555" stroke-width="1.0" />
<line x1="918.40" y1="586.30" x2="921.60" y2="586.30" stroke="#555" stroke-width="1.0" />
<line x1="915.20" y1="575.80" x2="921.60" y2="575.80" stroke="#231f20" stroke-width="2.2" />
<text x="910.9" y="578.4" font-size="8" font-weight="bold" text-anchor="end" style="letter-spacing:-0.8px;stroke-width:0.5px">100</text>
<line x1="1141.80" y1="572.60" x2="1141.80" y2="579.00" stroke="#444" stroke-width="1.8" />
<line x1="920.60" y1="787.00" x2="1143.10" y2="787.00" stroke="#231f20" stroke-width="2.6" />
<line x1="922.40" y1="786.00" x2="922.40" y2="792.50" stroke="#231f20" stroke-width="2.0" />
<line x1="948.74" y1="786.00" x2="948.74" y2="790.00" stroke="#231f20" stroke-width="1.6" />
<line x1="964.15" y1="786.00" x2="964.15" y2="790.00" stroke="#231f20" stroke-width="1.6" />
<line x1="975.08" y1="786.00" x2="975.08" y2="790.00" stroke="#231f20" stroke-width="1.6" />
<line x1="983.56" y1="786.00" x2="983.56" y2="790.00" stroke="#231f20" stroke-width="1.6" />
<line x1="990.49" y1="786.00" x2="990.49" y2="790.00" stroke="#231f20" stroke-width="1.6" />
<line x1="996.35" y1="786.00" x2="996.35" y2="790.00" stroke="#231f20" stroke-width="1.6" />
<line x1="1001.42" y1="786.00" x2="1001.42" y2="790.00" stroke="#231f20" stroke-width="1.6" />
<line x1="1005.90" y1="786.00" x2="1005.90" y2="790.00" stroke="#231f20" stroke-width="1.6" />
<line x1="1009.90" y1="786.00" x2="1009.90" y2="792.50" stroke="#231f20" stroke-width="2.0" />
<line x1="1036.24" y1="786.00" x2="1036.24" y2="790.00" stroke="#231f20" stroke-width="1.6" />
<line x1="1051.65" y1="786.00" x2="1051.65" y2="790.00" stroke="#231f20" stroke-width="1.6" />
<line x1="1062.58" y1="786.00" x2="1062.58" y2="790.00" stroke="#231f20" stroke-width="1.6" />
<line x1="1071.06" y1="786.00" x2="1071.06" y2="790.00" stroke="#231f20" stroke-width="1.6" />
<line x1="1077.99" y1="786.00" x2="1077.99" y2="790.00" stroke="#231f20" stroke-width="1.6" />
<line x1="1083.85" y1="786.00" x2="1083.85" y2="790.00" stroke="#231f20" stroke-width="1.6" />
<line x1="1088.92" y1="786.00" x2="1088.92" y2="790.00" stroke="#231f20" stroke-width="1.6" />
<line x1="1093.40" y1="786.00" x2="1093.40" y2="790.00" stroke="#231f20" stroke-width="1.6" />
<line x1="1097.40" y1="786.00" x2="1097.40" y2="792.50" stroke="#231f20" stroke-width="2.0" />
<line x1="1123.74" y1="786.00" x2="1123.74" y2="790.00" stroke="#231f20" stroke-width="1.6" />
<line x1="1139.15" y1="786.00" x2="1139.15" y2="790.00" stroke="#231f20" stroke-width="1.6" />
<text x="926.2" y="806.5" font-size="8" font-weight="bold" style="letter-spacing:-0.6px;stroke-width:0.4px">10<tspan font-size="6.5" dy="-4">1</tspan></text>
<text x="1010.2" y="806.5" font-size="8" font-weight="bold" style="letter-spacing:-0.6px;stroke-width:0.4px">10<tspan font-size="6.5" dy="-4">2</tspan></text>
<text x="1097.7" y="806.5" font-size="8" font-weight="bold" style="letter-spacing:-0.6px;stroke-width:0.4px">10<tspan font-size="6.5" dy="-4">3</tspan></text>
<line x1="934.90" y1="607.00" x2="1031.00" y2="607.00" stroke="#231f20" stroke-width="2.6" />
<line x1="934.90" y1="602.50" x2="934.90" y2="611.50" stroke="#231f20" stroke-width="1.6" />
<line x1="1031.00" y1="602.50" x2="1031.00" y2="611.50" stroke="#231f20" stroke-width="1.6" />
<text x="925.9" y="593.8" font-size="26">9.3/<tspan font-weight="bold">47.9</tspan></text>
<text transform="translate(40.6,671.8) rotate(-90)" font-size="26.2" text-anchor="middle">Cell Count</text>
<text x="153.40" y="834.70" font-size="26.2" >Foxp3</text>
<line x1="251.50" y1="828.00" x2="1086.00" y2="828.00" stroke="#231f20" stroke-width="3.6" />
<polygon points="1084,818.7 1103.6,828 1084,837.7" fill="#231f20"/>
<line x1="1156.00" y1="576.70" x2="1207.00" y2="576.70" stroke="#5a5a5a" stroke-width="3.4" stroke-dasharray="2.2,2"/>
<line x1="1154.20" y1="607.00" x2="1208.50" y2="607.00" stroke="#231f20" stroke-width="6.5" />
<text x="1218.30" y="583.30" font-size="21"><tspan font-style="italic">Cis</tspan><tspan font-size="15.5" dy="-6.5">fl/+,Cre</tspan></text>
<text x="1218.30" y="614.00" font-size="21"><tspan font-style="italic">Cis</tspan><tspan font-size="15.5" dy="-6.5">fl/fl,Cre</tspan></text>
<line x1="279.80" y1="874.60" x2="279.80" y2="1124.50" stroke="#231f20" stroke-width="3.5" />
<line x1="273.50" y1="1122.20" x2="279.80" y2="1122.20" stroke="#231f20" stroke-width="3" />
<text x="261.50" y="1128.70" font-size="18" text-anchor="end" >0</text>
<line x1="273.50" y1="1060.90" x2="279.80" y2="1060.90" stroke="#231f20" stroke-width="3" />
<text x="261.50" y="1067.40" font-size="18" text-anchor="end" >20</text>
<line x1="273.50" y1="999.60" x2="279.80" y2="999.60" stroke="#231f20" stroke-width="3" />
<text x="261.50" y="1006.10" font-size="18" text-anchor="end" >40</text>
<line x1="273.50" y1="938.30" x2="279.80" y2="938.30" stroke="#231f20" stroke-width="3" />
<text x="261.50" y="944.80" font-size="18" text-anchor="end" >60</text>
<line x1="273.50" y1="877.00" x2="279.80" y2="877.00" stroke="#231f20" stroke-width="3" />
<text x="261.50" y="883.50" font-size="18" text-anchor="end" >80</text>
<line x1="278.10" y1="1122.30" x2="833.20" y2="1122.30" stroke="#231f20" stroke-width="3.5" />
<line x1="280.30" y1="1122.00" x2="280.30" y2="1129.50" stroke="#231f20" stroke-width="3.2" />
<line x1="417.80" y1="1122.00" x2="417.80" y2="1129.50" stroke="#231f20" stroke-width="3.2" />
<line x1="555.50" y1="1122.00" x2="555.50" y2="1129.50" stroke="#231f20" stroke-width="3.2" />
<line x1="693.50" y1="1122.00" x2="693.50" y2="1129.50" stroke="#231f20" stroke-width="3.2" />
<line x1="831.60" y1="1122.00" x2="831.60" y2="1129.50" stroke="#231f20" stroke-width="3.2" />
<line x1="327.30" y1="1105.60" x2="327.30" y2="1095.30" stroke="#231f20" stroke-width="3" />
<line x1="320.00" y1="1095.30" x2="334.60" y2="1095.30" stroke="#231f20" stroke-width="3" />
<line x1="370.40" y1="955.00" x2="370.40" y2="931.00" stroke="#231f20" stroke-width="3" />
<line x1="363.10" y1="931.00" x2="377.70" y2="931.00" stroke="#231f20" stroke-width="3" />
<rect x="305.75" y="1105.60" width="43.10" height="16.70" fill="#fff" stroke="#231f20" stroke-width="3"/>
<rect x="348.85" y="955.00" width="43.10" height="167.30" fill="#231f20" stroke="#231f20" stroke-width="3"/>
<line x1="465.15" y1="1099.70" x2="465.15" y2="1096.80" stroke="#231f20" stroke-width="3" />
<line x1="457.85" y1="1096.80" x2="472.45" y2="1096.80" stroke="#231f20" stroke-width="3" />
<line x1="508.25" y1="1026.10" x2="508.25" y2="1005.30" stroke="#231f20" stroke-width="3" />
<line x1="500.95" y1="1005.30" x2="515.55" y2="1005.30" stroke="#231f20" stroke-width="3" />
<rect x="443.60" y="1099.70" width="43.10" height="22.60" fill="#fff" stroke="#231f20" stroke-width="3"/>
<rect x="486.70" y="1026.10" width="43.10" height="96.20" fill="#231f20" stroke="#231f20" stroke-width="3"/>
<line x1="603.45" y1="1104.50" x2="603.45" y2="1096.90" stroke="#231f20" stroke-width="3" />
<line x1="596.15" y1="1096.90" x2="610.75" y2="1096.90" stroke="#231f20" stroke-width="3" />
<line x1="646.55" y1="989.50" x2="646.55" y2="961.50" stroke="#231f20" stroke-width="3" />
<line x1="639.25" y1="961.50" x2="653.85" y2="961.50" stroke="#231f20" stroke-width="3" />
<rect x="581.90" y="1104.50" width="43.10" height="17.80" fill="#fff" stroke="#231f20" stroke-width="3"/>
<rect x="625.00" y="989.50" width="43.10" height="132.80" fill="#231f20" stroke="#231f20" stroke-width="3"/>
<line x1="741.45" y1="1101.80" x2="741.45" y2="1091.10" stroke="#231f20" stroke-width="3" />
<line x1="734.15" y1="1091.10" x2="748.75" y2="1091.10" stroke="#231f20" stroke-width="3" />
<line x1="784.55" y1="979.90" x2="784.55" y2="972.70" stroke="#231f20" stroke-width="3" />
<line x1="777.25" y1="972.70" x2="791.85" y2="972.70" stroke="#231f20" stroke-width="3" />
<rect x="719.90" y="1101.80" width="43.10" height="20.50" fill="#fff" stroke="#231f20" stroke-width="3"/>
<rect x="763.00" y="979.90" width="43.10" height="142.40" fill="#231f20" stroke="#231f20" stroke-width="3"/>
<line x1="316.50" y1="917.90" x2="378.20" y2="917.90" stroke="#231f20" stroke-width="3.2" />
<text x="346.60" y="926.97" font-size="36" text-anchor="middle" font-weight="bold" >*</text>
<line x1="316.50" y1="890.70" x2="529.30" y2="890.70" stroke="#231f20" stroke-width="3.2" />
<text x="424.10" y="900.77" font-size="36" text-anchor="middle" font-weight="bold" >*</text>
<line x1="456.20" y1="986.60" x2="517.60" y2="986.60" stroke="#231f20" stroke-width="3.2" />
<text x="485.40" y="995.77" font-size="36" text-anchor="middle" font-weight="bold" >*</text>
<line x1="591.80" y1="949.00" x2="653.40" y2="949.00" stroke="#231f20" stroke-width="3.2" />
<text x="622.00" y="957.57" font-size="36" text-anchor="middle" font-weight="bold" >*</text>
<line x1="730.20" y1="957.50" x2="792.10" y2="957.50" stroke="#231f20" stroke-width="3.2" />
<text x="762.95" y="961.97" font-size="36" text-anchor="middle" font-weight="bold" letter-spacing="1.5">**</text>
<text x="347.30" y="1156.70" font-size="20" text-anchor="middle" >No</text>
<text x="485.80" y="1156.70" font-size="20" text-anchor="middle" ><tspan font-family="Liberation Serif" font-size="112%">α</tspan>-IL-4</text>
<text x="621.50" y="1157.10" font-size="20" text-anchor="middle" ><tspan font-family="Liberation Serif" font-size="112%">α</tspan>-IL-6</text>
<text x="622.60" y="1179.80" font-size="20" text-anchor="middle" >+IL-21R</text>
<text x="760.00" y="1156.70" font-size="20" text-anchor="middle" ><tspan font-family="Liberation Serif" font-size="112%">α</tspan>-IFN<tspan font-family="Liberation Serif">γ</tspan></text>
<text transform="translate(218,996) rotate(-90)" font-size="29.5" text-anchor="middle">Foxp3<tspan font-size="20" dy="-9">lo</tspan><tspan dy="9"> (%)</tspan></text>
<rect x="841.00" y="891.30" width="13.90" height="12.20" fill="#fff" stroke="#231f20" stroke-width="3"/>
<rect x="841.00" y="924.10" width="13.90" height="12.20" fill="#231f20" stroke="#231f20" stroke-width="3"/>
<text x="863.20" y="905.70" font-size="21.5"><tspan font-style="italic">Cis</tspan><tspan font-size="15" dy="-6">fl/+,Cre</tspan></text>
<text x="863.20" y="933.80" font-size="21.5"><tspan font-style="italic">Cis</tspan><tspan font-size="15" dy="-6">fl/fl,Cre</tspan></text>
<text x="3.50" y="1233.00" font-size="40" font-weight="bold" >d</text>
<line x1="216.30" y1="1219.40" x2="216.30" y2="1568.50" stroke="#231f20" stroke-width="3.2" />
<line x1="208.20" y1="1560.90" x2="216.30" y2="1560.90" stroke="#231f20" stroke-width="3" />
<text x="192.30" y="1569.90" font-size="25" text-anchor="end" >0</text>
<line x1="208.20" y1="1463.30" x2="216.30" y2="1463.30" stroke="#231f20" stroke-width="3" />
<text x="192.30" y="1472.30" font-size="25" text-anchor="end" >50</text>
<line x1="208.20" y1="1365.70" x2="216.30" y2="1365.70" stroke="#231f20" stroke-width="3" />
<text x="192.30" y="1374.70" font-size="25" text-anchor="end" >100</text>
<line x1="208.20" y1="1268.10" x2="216.30" y2="1268.10" stroke="#231f20" stroke-width="3" />
<text x="192.30" y="1277.10" font-size="25" text-anchor="end" >150</text>
<line x1="208.20" y1="1561.00" x2="968.80" y2="1561.00" stroke="#231f20" stroke-width="3.5" />
<line x1="366.30" y1="1561.00" x2="366.30" y2="1568.50" stroke="#231f20" stroke-width="3.2" />
<line x1="516.50" y1="1561.00" x2="516.50" y2="1568.50" stroke="#231f20" stroke-width="3.2" />
<line x1="667.00" y1="1561.00" x2="667.00" y2="1568.50" stroke="#231f20" stroke-width="3.2" />
<line x1="817.30" y1="1561.00" x2="817.30" y2="1568.50" stroke="#231f20" stroke-width="3.2" />
<line x1="967.30" y1="1561.00" x2="967.30" y2="1568.50" stroke="#231f20" stroke-width="3.2" />
<rect x="242.80" y="1365.60" width="24.35" height="195.30" fill="#fff" stroke="#231f20" stroke-width="3"/>
<line x1="404.88" y1="1517.70" x2="404.88" y2="1508.10" stroke="#231f20" stroke-width="3" />
<line x1="397.57" y1="1508.10" x2="412.18" y2="1508.10" stroke="#231f20" stroke-width="3" />
<line x1="429.23" y1="1519.30" x2="429.23" y2="1504.20" stroke="#231f20" stroke-width="3" />
<line x1="421.93" y1="1504.20" x2="436.53" y2="1504.20" stroke="#231f20" stroke-width="3" />
<line x1="453.57" y1="1429.50" x2="453.57" y2="1390.90" stroke="#231f20" stroke-width="3" />
<line x1="446.27" y1="1390.90" x2="460.88" y2="1390.90" stroke="#231f20" stroke-width="3" />
<line x1="477.93" y1="1476.80" x2="477.93" y2="1442.80" stroke="#231f20" stroke-width="3" />
<line x1="470.62" y1="1442.80" x2="485.23" y2="1442.80" stroke="#231f20" stroke-width="3" />
<rect x="392.70" y="1517.70" width="24.35" height="43.20" fill="#dcdddf" stroke="#231f20" stroke-width="3"/>
<rect x="417.05" y="1519.30" width="24.35" height="41.60" fill="#4b4b4d" stroke="#231f20" stroke-width="3"/>
<rect x="441.40" y="1429.50" width="24.35" height="131.40" fill="#a8a9ac" stroke="#231f20" stroke-width="3"/>
<rect x="465.75" y="1476.80" width="24.35" height="84.10" fill="#231f20" stroke="#231f20" stroke-width="3"/>
<line x1="555.27" y1="1504.50" x2="555.27" y2="1475.30" stroke="#231f20" stroke-width="3" />
<line x1="547.97" y1="1475.30" x2="562.57" y2="1475.30" stroke="#231f20" stroke-width="3" />
<line x1="579.62" y1="1498.70" x2="579.62" y2="1481.00" stroke="#231f20" stroke-width="3" />
<line x1="572.32" y1="1481.00" x2="586.92" y2="1481.00" stroke="#231f20" stroke-width="3" />
<line x1="603.97" y1="1380.40" x2="603.97" y2="1300.80" stroke="#231f20" stroke-width="3" />
<line x1="596.67" y1="1300.80" x2="611.27" y2="1300.80" stroke="#231f20" stroke-width="3" />
<line x1="628.32" y1="1431.10" x2="628.32" y2="1372.60" stroke="#231f20" stroke-width="3" />
<line x1="621.02" y1="1372.60" x2="635.62" y2="1372.60" stroke="#231f20" stroke-width="3" />
<rect x="543.10" y="1504.50" width="24.35" height="56.40" fill="#dcdddf" stroke="#231f20" stroke-width="3"/>
<rect x="567.45" y="1498.70" width="24.35" height="62.20" fill="#4b4b4d" stroke="#231f20" stroke-width="3"/>
<rect x="591.80" y="1380.40" width="24.35" height="180.50" fill="#a8a9ac" stroke="#231f20" stroke-width="3"/>
<rect x="616.15" y="1431.10" width="24.35" height="129.80" fill="#231f20" stroke="#231f20" stroke-width="3"/>
<line x1="705.67" y1="1493.40" x2="705.67" y2="1471.60" stroke="#231f20" stroke-width="3" />
<line x1="698.38" y1="1471.60" x2="712.97" y2="1471.60" stroke="#231f20" stroke-width="3" />
<line x1="730.02" y1="1483.50" x2="730.02" y2="1458.50" stroke="#231f20" stroke-width="3" />
<line x1="722.73" y1="1458.50" x2="737.32" y2="1458.50" stroke="#231f20" stroke-width="3" />
<line x1="754.38" y1="1350.30" x2="754.38" y2="1279.60" stroke="#231f20" stroke-width="3" />
<line x1="747.08" y1="1279.60" x2="761.67" y2="1279.60" stroke="#231f20" stroke-width="3" />
<line x1="778.72" y1="1438.50" x2="778.72" y2="1374.20" stroke="#231f20" stroke-width="3" />
<line x1="771.42" y1="1374.20" x2="786.02" y2="1374.20" stroke="#231f20" stroke-width="3" />
<rect x="693.50" y="1493.40" width="24.35" height="67.50" fill="#dcdddf" stroke="#231f20" stroke-width="3"/>
<rect x="717.85" y="1483.50" width="24.35" height="77.40" fill="#4b4b4d" stroke="#231f20" stroke-width="3"/>
<rect x="742.20" y="1350.30" width="24.35" height="210.60" fill="#a8a9ac" stroke="#231f20" stroke-width="3"/>
<rect x="766.55" y="1438.50" width="24.35" height="122.40" fill="#231f20" stroke="#231f20" stroke-width="3"/>
<line x1="855.97" y1="1443.40" x2="855.97" y2="1388.80" stroke="#231f20" stroke-width="3" />
<line x1="848.67" y1="1388.80" x2="863.27" y2="1388.80" stroke="#231f20" stroke-width="3" />
<line x1="880.32" y1="1457.70" x2="880.32" y2="1393.90" stroke="#231f20" stroke-width="3" />
<line x1="873.02" y1="1393.90" x2="887.62" y2="1393.90" stroke="#231f20" stroke-width="3" />
<line x1="904.67" y1="1330.70" x2="904.67" y2="1320.50" stroke="#231f20" stroke-width="3" />
<line x1="897.38" y1="1320.50" x2="911.97" y2="1320.50" stroke="#231f20" stroke-width="3" />
<line x1="929.02" y1="1429.50" x2="929.02" y2="1382.80" stroke="#231f20" stroke-width="3" />
<line x1="921.72" y1="1382.80" x2="936.32" y2="1382.80" stroke="#231f20" stroke-width="3" />
<rect x="843.80" y="1443.40" width="24.35" height="117.50" fill="#dcdddf" stroke="#231f20" stroke-width="3"/>
<rect x="868.15" y="1457.70" width="24.35" height="103.20" fill="#4b4b4d" stroke="#231f20" stroke-width="3"/>
<rect x="892.50" y="1330.70" width="24.35" height="230.20" fill="#a8a9ac" stroke="#231f20" stroke-width="3"/>
<rect x="916.85" y="1429.50" width="24.35" height="131.40" fill="#231f20" stroke="#231f20" stroke-width="3"/>
<line x1="394.20" y1="1378.40" x2="450.80" y2="1378.40" stroke="#231f20" stroke-width="3.2" />
<text x="423.75" y="1384.97" font-size="36" text-anchor="middle" font-weight="bold" letter-spacing="1.5">**</text>
<line x1="450.00" y1="1368.50" x2="483.80" y2="1368.50" stroke="#231f20" stroke-width="3.2" />
<text x="467.50" y="1373.97" font-size="36" text-anchor="middle" font-weight="bold" >*</text>
<line x1="547.20" y1="1284.20" x2="604.20" y2="1284.20" stroke="#231f20" stroke-width="3.2" />
<text x="576.00" y="1289.97" font-size="36" text-anchor="middle" font-weight="bold" >*</text>
<line x1="698.50" y1="1267.60" x2="755.00" y2="1267.60" stroke="#231f20" stroke-width="3.2" />
<text x="727.75" y="1273.27" font-size="36" text-anchor="middle" font-weight="bold" letter-spacing="1.5">**</text>
<line x1="752.00" y1="1257.70" x2="785.70" y2="1257.70" stroke="#231f20" stroke-width="3.2" />
<text x="770.30" y="1264.17" font-size="36" text-anchor="middle" font-weight="bold" >*</text>
<line x1="848.00" y1="1306.20" x2="904.30" y2="1306.20" stroke="#231f20" stroke-width="3.2" />
<text x="875.60" y="1312.97" font-size="36" text-anchor="middle" font-weight="bold" >*</text>
<line x1="900.40" y1="1293.50" x2="933.80" y2="1293.50" stroke="#231f20" stroke-width="3.2" />
<text x="916.10" y="1300.27" font-size="36" text-anchor="middle" font-weight="bold" >*</text>
<text x="291.90" y="1606.20" font-size="26" text-anchor="middle" >Teff</text>
<text x="441.40" y="1606.40" font-size="26" text-anchor="middle" >1 to 1</text>
<text x="591.80" y="1606.40" font-size="26" text-anchor="middle" >1 to 2</text>
<text x="742.20" y="1606.40" font-size="26" text-anchor="middle" >1 to 4</text>
<text x="892.50" y="1606.40" font-size="26" text-anchor="middle" >1 to 8</text>
<line x1="380.00" y1="1619.10" x2="950.40" y2="1619.10" stroke="#231f20" stroke-width="3.2" />
<text x="670.40" y="1654.90" font-size="26.3" text-anchor="middle" >Ratio: Treg to Teff</text>
<text transform="translate(126.3,1396.3) rotate(-90)" font-size="29.7" text-anchor="middle">Relative proliferation (%)</text>
<rect x="983.60" y="1250.60" width="15.00" height="13.60" fill="#dcdddf" stroke="#2a2a2a" stroke-width="2.8"/>
<rect x="984.10" y="1287.50" width="15.00" height="13.60" fill="#777779" stroke="#2a2a2a" stroke-width="2.8"/>
<rect x="984.10" y="1323.50" width="15.00" height="13.60" fill="#b4b5b8" stroke="#2a2a2a" stroke-width="2.8"/>
<rect x="984.60" y="1360.40" width="15.00" height="13.60" fill="#58585a" stroke="#2a2a2a" stroke-width="2.8"/>
<text x="1012.60" y="1265.40" font-size="29" >WT Ctr</text>
<text x="1012.60" y="1301.00" font-size="29" >WT <tspan font-family="Liberation Serif" font-size="112%">α</tspan>-IL-4</text>
<text x="1014.5" y="1335.6" font-size="29"><tspan font-style="italic">Cis</tspan><tspan font-size="18" dy="-10">–/–</tspan><tspan dy="10"> Ctr</tspan></text>
<text x="1014.5" y="1371.2" font-size="29"><tspan font-style="italic">Cis</tspan><tspan font-size="18" dy="-10">–/–</tspan><tspan dy="10"> <tspan font-family="Liberation Serif" font-size="112%">α</tspan>-IL-4</tspan></text>
</svg>
</body></html>
